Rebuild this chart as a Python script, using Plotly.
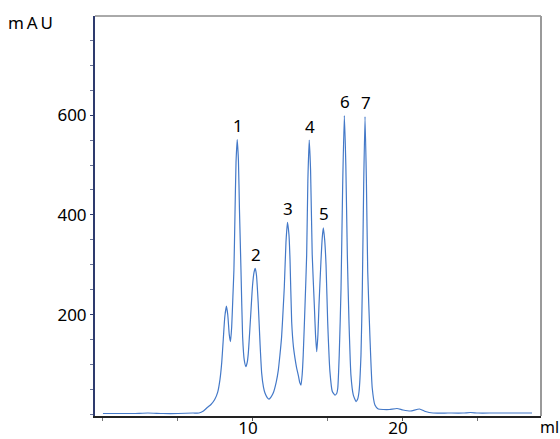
import plotly.graph_objects as go

# Elution volume (ml) and UV absorbance (mAU) of the chromatogram trace
elution_ml = [
    0.0, 1.0, 2.0, 3.0, 4.0, 5.0, 6.0, 6.4, 6.7, 6.95, 7.2, 7.45, 7.65, 7.8, 7.92,
    8.02, 8.12, 8.23, 8.32, 8.42, 8.5, 8.58, 8.66, 8.73, 8.8, 8.87, 8.95, 9.03, 9.1,
    9.2, 9.31, 9.42, 9.53, 9.62, 9.69, 9.78, 9.87, 9.97, 10.07, 10.15, 10.23, 10.35,
    10.47, 10.58, 10.7, 10.8, 10.95, 11.07, 11.2, 11.35, 11.55, 11.69, 11.8, 11.91,
    12.01, 12.09, 12.2, 12.3, 12.4, 12.47, 12.58, 12.7, 12.8, 12.9, 13.02, 13.12,
    13.2, 13.28, 13.35, 13.47, 13.58, 13.66, 13.75, 13.84, 13.95, 14.09, 14.17,
    14.25, 14.33, 14.4, 14.53, 14.62, 14.69, 14.78, 14.87, 14.98, 15.13, 15.29,
    15.47, 15.58, 15.65, 15.75, 15.87, 15.98, 16.09, 16.19, 16.29, 16.4, 16.53,
    16.69, 16.87, 16.98, 17.07, 17.2, 17.29, 17.38, 17.47, 17.56, 17.65, 17.8,
    17.95, 18.13, 18.35, 18.7, 19.1, 19.6, 20.0, 20.5, 21.1, 21.5, 22.0, 23.0,
    24.0, 24.5, 25.0, 26.0, 27.0, 28.0, 28.6,
]
absorbance_mau = [
    2, 2, 2, 3, 2, 2, 3, 3, 7, 14, 20, 30, 45, 70, 105,
    150, 195, 217, 200, 160, 146, 175, 235, 290, 400, 505, 551, 510, 410,
    290, 156, 109, 96, 105, 123, 165, 210, 258, 285, 293, 280, 223,
    143, 83, 55, 43, 34, 31, 35, 43, 65, 89, 120, 156,
    210, 256, 345, 385, 360, 310, 186, 135, 113, 95, 79, 64,
    59, 80, 119, 219, 320, 470, 550, 490, 320, 219, 160,
    126, 160, 219, 306, 355, 374, 350, 300, 186, 86, 46,
    39, 42, 52, 119, 253, 460, 599, 500, 320, 186, 79,
    39, 26, 31, 46, 119, 253, 460, 597, 470, 286, 153,
    53, 19, 11, 10, 10, 12, 9, 7, 11, 6, 3, 3,
    3, 4, 3, 3, 3, 3, 3,
]

# Numbered peaks (elution volume of each apex)
peak_labels = ["1", "2", "3", "4", "5", "6", "7"]
peak_ml = [8.95, 10.15, 12.3, 13.75, 14.69, 16.09, 17.47]
peak_mau = [absorbance_mau[elution_ml.index(v)] for v in peak_ml]

y_tick_vals = [200, 400, 600]
x_tick_vals = [10, 20]

FONT = "Noto Sans"

fig = go.Figure()
fig.add_trace(go.Scatter(
    x=elution_ml, y=absorbance_mau, mode="lines",
    line=dict(color="#4479c8", width=1.2, shape="spline", smoothing=0.5),
    hoverinfo="skip", showlegend=False,
))

annotations = [
    dict(x=x, y=y, text=t, showarrow=False, xref="x", yref="y",
         yanchor="middle", yshift=14, xshift=1,
         font=dict(family=FONT, size=17, color="#000"))
    for x, y, t in zip(peak_ml, peak_mau, peak_labels)
]
annotations += [
    dict(x=-0.1435, y=0.983, xref="paper", yref="paper", text="m\u2009A\u2009U",
         showarrow=False, xanchor="center", yanchor="middle",
         font=dict(family=FONT, size=17, color="#000")),
    dict(x=1.0, y=-0.0275, xref="paper", yref="paper", text="ml",
         showarrow=False, xanchor="left", yanchor="middle", xshift=-2,
         borderpad=0,
         font=dict(family=FONT, size=16, color="#000")),
]

# Frame: grey top and right edges
shapes = [
    dict(type="line", xref="paper", yref="paper", x0=0, x1=1, y0=1, y1=1,
         line=dict(color="#555555", width=1)),
    dict(type="line", xref="paper", yref="paper", x0=1, x1=1, y0=0, y1=1,
         line=dict(color="#9a9a9a", width=2)),
]

fig.update_layout(
    width=560, height=439,
    margin=dict(l=95, r=19, t=16, b=23, autoexpand=False),
    paper_bgcolor="white", plot_bgcolor="white",
    annotations=annotations, shapes=shapes,
    font=dict(family=FONT, size=17, color="#000"),
)
fig.update_xaxes(
    range=[-0.53, 29.2], showgrid=False, zeroline=False, automargin=False,
    showline=True, linecolor="#222222", linewidth=2,
    tickmode="array", tickvals=x_tick_vals, ticks="outside", ticklen=3,
    tickcolor="#555", ticklabelshift=-5, ticklabelstandoff=-7,
    minor=dict(tick0=0, dtick=5, ticks="outside", ticklen=3, tickcolor="#777"),
    tickfont=dict(family=FONT, size=17, color="#000"),
)
fig.update_yaxes(
    range=[-3, 798.6], showgrid=False, zeroline=False, automargin=False,
    showline=True, linecolor="#2e3b6e", linewidth=2,
    tickmode="array", tickvals=y_tick_vals, ticks="outside", ticklen=3,
    tickcolor="#2e3b6e",
    minor=dict(tick0=0, dtick=50, ticks="outside", ticklen=3, tickcolor="#6a7396"),
    tickfont=dict(family=FONT, size=17, color="#000"),
)

fig.write_html("out.html")
